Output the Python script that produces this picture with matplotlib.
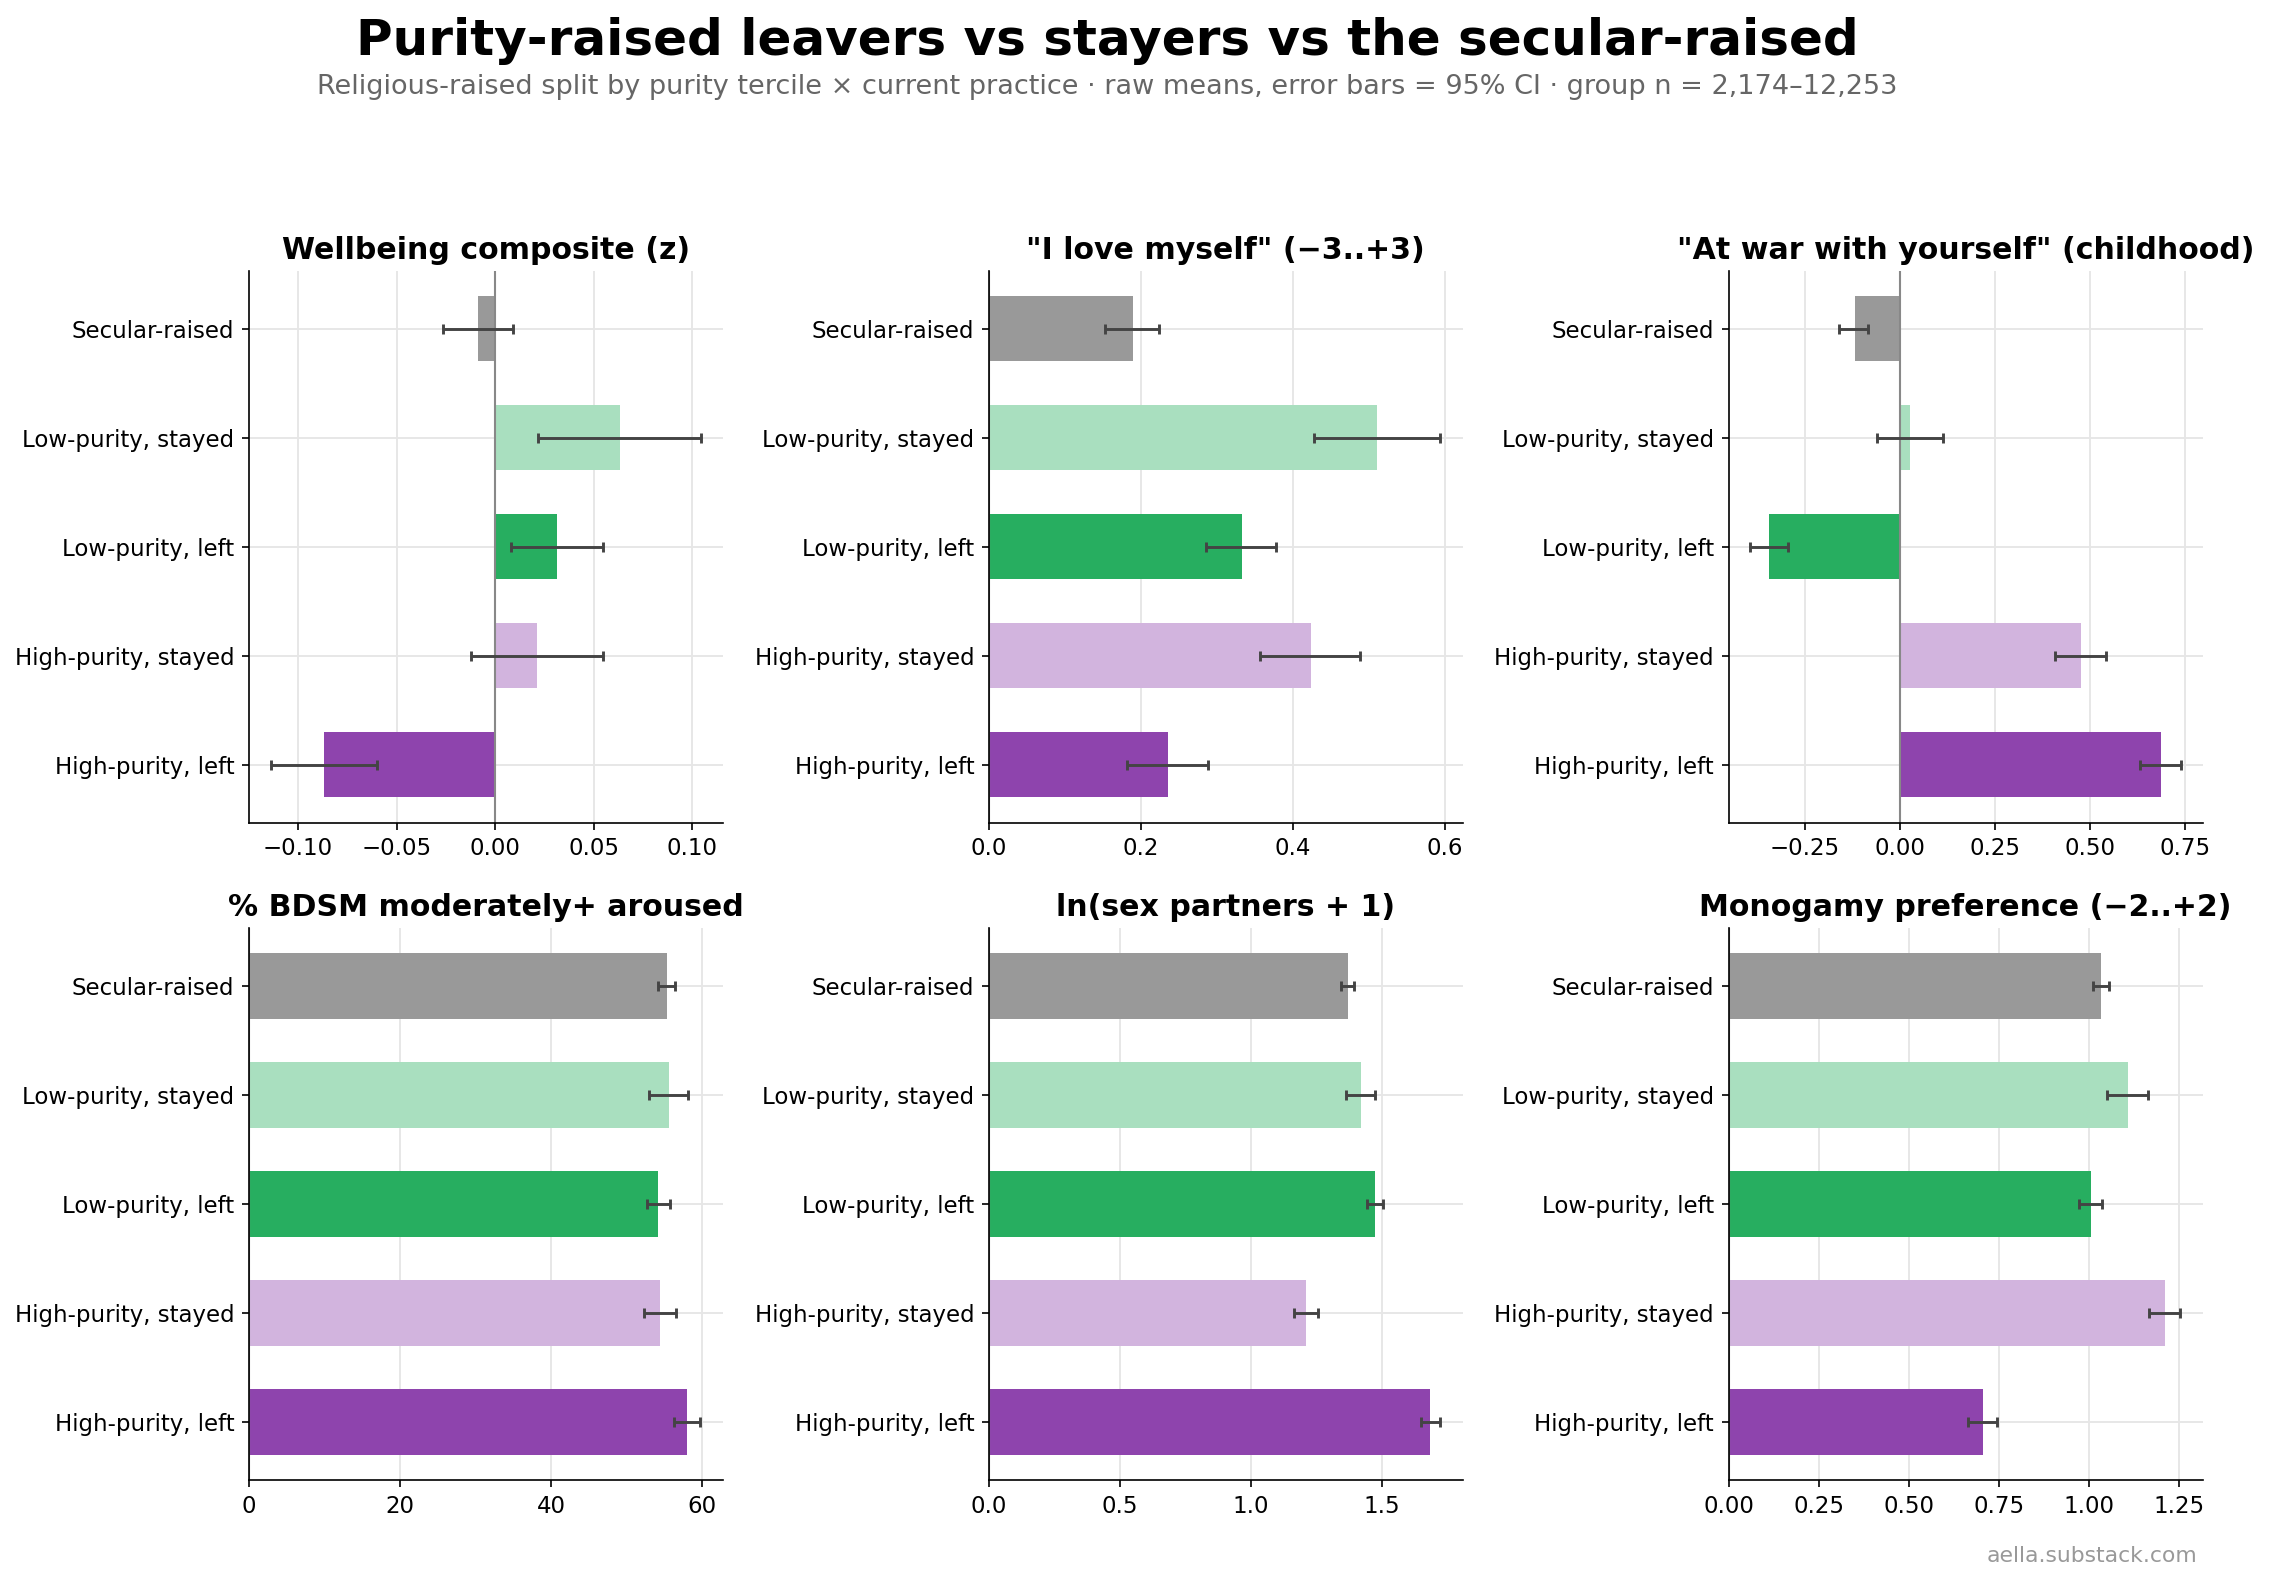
import numpy as np
import matplotlib
matplotlib.use("Agg")
import matplotlib.pyplot as plt
from matplotlib.ticker import MaxNLocator

# --- groups (top to bottom)
groups = ["Secular-raised", "Low-purity, stayed", "Low-purity, left",
          "High-purity, stayed", "High-purity, left"]
colors = ["#999999", "#a9dfbf", "#27ae60", "#d2b4de", "#8e44ad"]

titles = [
    "Wellbeing composite (z)",
    "\"I love myself\" (\u22123..+3)",
    "\"At war with yourself\" (childhood)",
    "% BDSM moderately+ aroused",
    "ln(sex partners + 1)",
    "Monogamy preference (\u22122..+2)",
]

# --- means and 95% CI bounds
wellbeing = [-0.0086, 0.0636, 0.0315, 0.0214, -0.087]
wellbeing_lo = [-0.0266, 0.0217, 0.0080, -0.0124, -0.114]
wellbeing_hi = [0.0093, 0.1047, 0.0549, 0.0549, -0.060]

love_self = [0.1895, 0.5105, 0.333, 0.4237, 0.2355]
love_self_lo = [0.1535, 0.428, 0.2864, 0.3575, 0.1825]
love_self_hi = [0.224, 0.594, 0.3776, 0.488, 0.288]

at_war = [-0.1184, 0.0263, -0.3447, 0.4763, 0.687]
at_war_lo = [-0.1588, -0.0588, -0.393, 0.407, 0.633]
at_war_hi = [-0.0825, 0.1132, -0.2947, 0.543, 0.7395]

bdsm = [55.36, 55.63, 54.17, 54.44, 58.01]
bdsm_lo = [54.13, 52.94, 52.67, 52.27, 56.29]
bdsm_hi = [56.47, 58.19, 55.76, 56.56, 59.78]

ln_partners = [1.370, 1.420, 1.473, 1.210, 1.683]
ln_partners_lo = [1.346, 1.3626, 1.4415, 1.1667, 1.6476]
ln_partners_hi = [1.394, 1.4746, 1.505, 1.257, 1.7226]

monogamy = [1.0333, 1.108, 1.0056, 1.211, 0.7056]
monogamy_lo = [1.011, 1.052, 0.974, 1.1685, 0.6657]
monogamy_hi = [1.0565, 1.164, 1.036, 1.2537, 0.7454]

panels = [
    (wellbeing, wellbeing_lo, wellbeing_hi),
    (love_self, love_self_lo, love_self_hi),
    (at_war, at_war_lo, at_war_hi),
    (bdsm, bdsm_lo, bdsm_hi),
    (ln_partners, ln_partners_lo, ln_partners_hi),
    (monogamy, monogamy_lo, monogamy_hi),
]

fig, axes = plt.subplots(2, 3, figsize=(15.13, 10.547), dpi=150)
plt.subplots_adjust(left=0.1097, right=0.9705, top=0.8287, bottom=0.0645,
                    wspace=0.561, hspace=0.192)

y = np.arange(len(groups))
for ax, title, (vals, lo, hi) in zip(axes.flat, titles, panels):
    vals = np.array(vals)
    err = [vals - np.array(lo), np.array(hi) - vals]
    ax.barh(y, vals, height=0.6, color=colors, zorder=2)
    ax.errorbar(vals, y, xerr=err, fmt="none", ecolor="#444444",
                elinewidth=1.4, capsize=2.5, capthick=1.4, zorder=3)
    ax.axvline(0, color="#888888", linewidth=1, zorder=2.5)
    ax.set_yticks(y)
    ax.set_yticklabels(groups, fontsize=11)
    ax.invert_yaxis()
    ax.xaxis.set_major_locator(MaxNLocator(nbins=6, steps=[1, 2, 2.5, 5, 10]))
    ax.tick_params(axis="x", labelsize=11)
    ax.grid(True, color="#e6e6e6", linewidth=0.9, zorder=0)
    ax.set_axisbelow(True)
    ax.spines["top"].set_visible(False)
    ax.spines["right"].set_visible(False)
    ax.set_title(title, fontsize=14.4, fontweight="bold")

fig.text(0.488, 0.974, "Purity-raised leavers vs stayers vs the secular-raised",
         ha="center", va="center", fontsize=24, fontweight="bold")
fig.text(0.488, 0.945,
         "Religious-raised split by purity tercile \u00d7 current practice \u00b7 raw means, "
         "error bars = 95% CI \u00b7 group n = 2,174\u201312,253",
         ha="center", va="center", fontsize=13, color="#666666")
fig.text(0.968, 0.0164, "aella.substack.com", ha="right", va="center",
         fontsize=10.5, color="#999999")

fig.savefig("out.png", dpi=150)
